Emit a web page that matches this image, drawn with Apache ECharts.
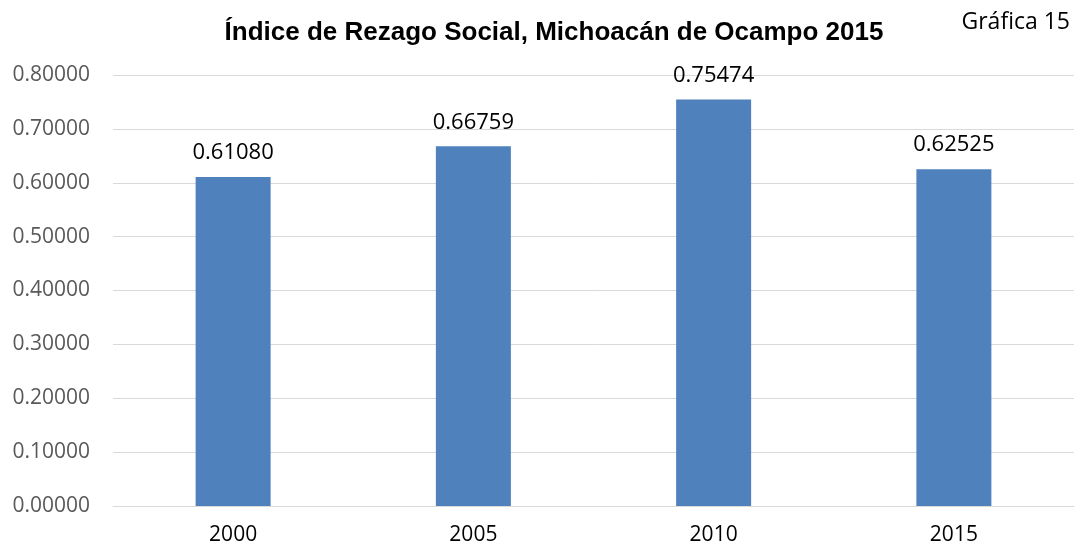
<!DOCTYPE html>
<html>
<head>
<meta charset="utf-8">
<script src="https://cdn.jsdelivr.net/npm/echarts@6/dist/echarts.min.js"></script>
<style>
  html, body { margin: 0; padding: 0; background: #fff; }
  #chart { width: 1083px; height: 546px; }
</style>
</head>
<body>
<div id="chart"></div>
<script>
const years = ['2000', '2005', '2010', '2015']
const rezago = [0.61080, 0.66759, 0.75474, 0.62525]
const yTicks = { min: 0, max: 0.8, interval: 0.1 }

const chart = echarts.init(document.getElementById('chart'))

chart.setOption({
    animation: false,
    title: [
        {
            text: 'Índice de Rezago Social, Michoacán de Ocampo 2015',
            left: 549,
            textAlign: 'center',
            top: 15,
            textStyle: {
                fontFamily: 'Liberation Sans',
                fontSize: 26,
                fontWeight: 'bold',
                color: '#000'
            }
        },
        {
            text: 'Gráfica 15',
            right: 8,
            top: 6,
            textStyle: {
                fontFamily: 'Open Sans',
                fontSize: 23,
                fontWeight: 'normal',
                color: '#000'
            }
        }
    ],
    grid: {
        left: 113,
        right: 9,
        top: 75,
        bottom: 39
    },
    xAxis: {
        type: 'category',
        data: years,
        axisLine: { lineStyle: { color: '#d9d9d9', width: 1 } },
        axisTick: { show: false },
        axisLabel: {
            margin: 19,
            fontFamily: 'Open Sans',
            fontSize: 21,
            color: '#000'
        }
    },
    yAxis: {
        type: 'value',
        min: yTicks.min,
        max: yTicks.max,
        interval: yTicks.interval,
        axisLine: { show: false },
        axisTick: { show: false },
        splitLine: { lineStyle: { color: '#d9d9d9', width: 1 } },
        axisLabel: {
            margin: 23,
            fontFamily: 'Open Sans',
            fontSize: 21,
            color: '#595959',
            formatter: v => v.toFixed(5)
        }
    },
    series: [
        {
            type: 'bar',
            data: rezago,
            barWidth: 75,
            itemStyle: { color: '#4f81bd' },
            label: {
                show: true,
                position: 'top',
                distance: 13,
                fontFamily: 'Open Sans',
                fontSize: 22,
                color: '#000',
                formatter: p => p.value.toFixed(5)
            }
        }
    ]
})
</script>
</body>
</html>
